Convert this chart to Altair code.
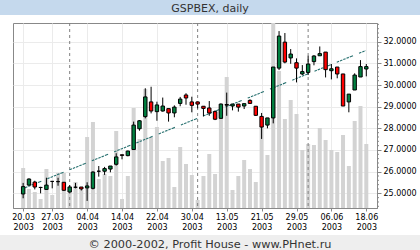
import altair as alt
import pandas as pd
import numpy as np

title_text = "GSPBEX, daily"
footer_text = "\u00a9 2000-2002, Profit House - www.PHnet.ru"

opens = [24.97, 25.38, 25.52, 25.27, 25.18, 25.55, 25.54, 25.51, 25.06, 25.28,
         25.29, 25.25, 25.23, 26.02, 26.02, 26.12, 26.34, 26.78, 26.74, 27.02,
         27.98, 28.54, 29.22, 28.77, 28.80, 28.91, 28.71, 29.15, 29.54, 29.22,
         29.22, 29.02, 28.94, 28.77, 28.46, 29.10, 29.03, 29.12, 29.03, 29.29,
         29.02, 28.55, 28.15, 28.48, 30.78, 31.98, 31.25, 31.03, 30.51, 30.58,
         31.08, 31.35, 31.52, 30.66, 30.83, 30.51, 29.22, 29.77, 30.37, 30.74]
highs = [25.48, 25.69, 25.58, 25.30, 25.72, 25.57, 25.72, 25.52, 25.38, 25.48,
         25.29, 25.51, 26.02, 26.26, 26.22, 26.26, 26.85, 26.78, 26.97, 28.31,
         28.38, 29.85, 29.92, 29.23, 29.42, 28.91, 29.06, 29.45, 29.62, 29.46,
         29.22, 29.02, 29.26, 28.83, 29.15, 29.65, 29.12, 29.12, 29.14, 29.34,
         29.02, 28.71, 28.48, 30.83, 32.49, 32.40, 31.66, 31.23, 30.92, 31.35,
         31.38, 31.78, 31.52, 30.97, 30.83, 30.51, 29.58, 30.54, 31.15, 30.97]
lows = [24.77, 25.35, 25.18, 25.00, 25.17, 25.23, 25.35, 25.11, 25.03, 25.23,
        25.13, 24.65, 25.18, 25.77, 25.85, 25.97, 26.28, 26.57, 26.71, 27.00,
        27.89, 28.46, 28.69, 28.35, 28.77, 28.31, 28.51, 29.02, 29.09, 28.74,
        28.92, 28.55, 28.58, 28.38, 28.46, 28.58, 28.83, 28.77, 28.89, 29.14,
        28.57, 27.51, 28.00, 28.23, 30.69, 31.00, 30.98, 30.12, 30.46, 30.46,
        30.91, 31.35, 30.35, 30.26, 30.31, 29.03, 28.74, 29.77, 30.37, 30.40]
closes = [25.31, 25.66, 25.29, 25.27, 25.38, 25.55, 25.54, 25.14, 25.29, 25.28,
          25.20, 25.34, 25.98, 26.02, 26.14, 26.26, 26.68, 26.75, 26.95, 28.15,
          28.35, 29.45, 28.80, 29.08, 29.03, 28.71, 28.98, 29.35, 29.40, 29.06,
          29.12, 28.92, 28.71, 28.42, 29.12, 29.07, 29.12, 28.98, 29.14, 29.15,
          28.60, 28.06, 28.48, 30.83, 32.26, 31.06, 31.43, 30.78, 30.62, 30.97,
          31.34, 31.45, 30.71, 30.75, 30.51, 29.03, 29.58, 30.46, 30.85, 30.85]
volumes = [40, 19, 16, 9, 39, 13, 35, 35, 22, 26,
           18, 71, 86, 29, 34, 32, 77, 9, 32, 100,
           69, 119, 71, 81, 47, 50, 21, 61, 44, 33,
           8, 32, 54, 34, 96, 131, 18, 32, 48, 39,
           26, 81, 53, 190, 137, 89, 108, 94, 58, 64,
           63, 80, 68, 58, 56, 73, 42, 87, 102, 64]

tick_idx = [0, 5, 11, 17, 23, 29, 35, 41, 47, 53, 59]
tick_day = ["20.03", "27.03", "04.04", "14.04", "22.04", "30.04",
            "13.05", "21.05", "29.05", "06.06", "18.06"]
tick_year = "2003"
month_idx = [8, 30, 49]
trend_x = [0.33, 58.9]
trend_v = [25.26, 31.59]
y_ticks = [25, 26, 27, 28, 29, 30, 31, 32]

X_DOM = [-0.886, 59.98]
Y_DOM = [24.322, 32.863]
V_DOM = [0, 185]
W, H = 364, 185

df = pd.DataFrame({"i": list(range(len(opens))), "open": opens, "high": highs,
                   "low": lows, "close": closes, "vol": volumes})
df["dir"] = np.where(df["close"] >= df["open"], "up", "down")
trend_df = pd.DataFrame({"tx": trend_x, "tv": trend_v})
month_df = pd.DataFrame({"m": month_idx})
minor_vals = [round(v, 1) for v in np.arange(24.4, 32.85, 0.2) if abs(v - round(v)) > 0.05]
minor_df = pd.DataFrame({"mv": minor_vals})
one = pd.DataFrame({"t": [title_text], "f": [footer_text]})

idx_list = ",".join(str(v) for v in tick_idx)
day_list = ",".join("'" + d + "'" for d in tick_day)
label_expr = f"[[{day_list}][indexof([{idx_list}], datum.value)], '{tick_year}']"

xscale = alt.Scale(domain=X_DOM, nice=False, zero=False)
yscale = alt.Scale(domain=Y_DOM, nice=False, zero=False)
xaxis = alt.Axis(values=tick_idx, labelExpr=label_expr, title=None, grid=True,
                 gridColor="#ebebeb", domainColor="#888888", tickColor="#888888",
                 tickSize=3, labelPadding=2, labelFont="DejaVu Sans", labelFontSize=8,
                 labelColor="#000000", labelLineHeight=10.5, labelBaseline="top")
yaxis = alt.Axis(values=y_ticks, format=".4f", orient="right", title=None, grid=True,
                 gridColor="#ebebeb", domainColor="#888888", tickColor="#888888",
                 tickSize=4, labelPadding=2, labelFont="DejaVu Sans", labelFontSize=8,
                 labelColor="#000000")

X = alt.X("i:Q", scale=xscale, axis=xaxis)

vol = alt.Chart(df).mark_bar(size=4, color="#d3d3d3", clip=True).encode(
    x=X, y=alt.Y("vol:Q", scale=alt.Scale(domain=V_DOM, nice=False), axis=None))

months = alt.Chart(month_df).mark_rule(color="#808080", strokeWidth=1, strokeDash=[3, 3]).encode(
    x=alt.X("m:Q", scale=xscale, axis=xaxis), y=alt.value(0), y2=alt.value(H))

trend = alt.Chart(trend_df).mark_line(
    color="#27706f", strokeWidth=1.1,
    strokeDash=[2.5, 1, 2.5, 1, 2.5, 1, 2.5, 1, 3.5, 6.5]).encode(
    x=alt.X("tx:Q", scale=xscale, axis=xaxis), y=alt.Y("tv:Q", scale=yscale, axis=yaxis))

wicks = alt.Chart(df).mark_rule(color="#000000", strokeWidth=1).encode(
    x=X, y=alt.Y("low:Q", scale=yscale, axis=yaxis), y2="high:Q")

bodies = alt.Chart(df).mark_bar(size=3.4, stroke="#000000", strokeWidth=1).encode(
    x=X, y=alt.Y("open:Q", scale=yscale, axis=yaxis), y2="close:Q",
    color=alt.Color("dir:N", scale=alt.Scale(domain=["up", "down"], range=["#008040", "#ff0000"]),
                    legend=None))

minor = alt.Chart(minor_df).mark_rule(color="#888888", strokeWidth=1).encode(
    x=alt.value(W), x2=alt.value(W + 2), y=alt.Y("mv:Q", scale=yscale, axis=yaxis))

title_band = alt.Chart(one).mark_rect(color="#c5d9ed").encode(
    x=alt.value(-13), x2=alt.value(W + 43), y=alt.value(-23), y2=alt.value(-8))
title_txt = alt.Chart(one).mark_text(font="DejaVu Sans", fontSize=11, color="#333333",
                                     baseline="alphabetic", align="center").encode(
    x=alt.value(197), y=alt.value(-11.5), text="t:N")
footer_band = alt.Chart(one).mark_rect(color="#eeeeee").encode(
    x=alt.value(-13), x2=alt.value(W + 43), y=alt.value(212), y2=alt.value(227))
footer_txt = alt.Chart(one).mark_text(font="DejaVu Sans", fontSize=11.3, color="#333333",
                                      baseline="alphabetic", align="center").encode(
    x=alt.value(197), y=alt.value(225), text="f:N")

price = alt.layer(months, trend, wicks, bodies, minor)
deco = alt.layer(title_band, title_txt, footer_band, footer_txt)

chart = alt.layer(vol, price, deco).resolve_scale(y="independent").properties(
    width=W, height=H, autosize=alt.AutoSizeParams(type="none"),
    padding={"left": 13, "top": 23, "right": 43, "bottom": 42},
    background="#ffffff"
).configure_view(stroke="#888888", strokeWidth=1)

chart.save("out.html", embed_options={"renderer": "svg", "actions": False})
